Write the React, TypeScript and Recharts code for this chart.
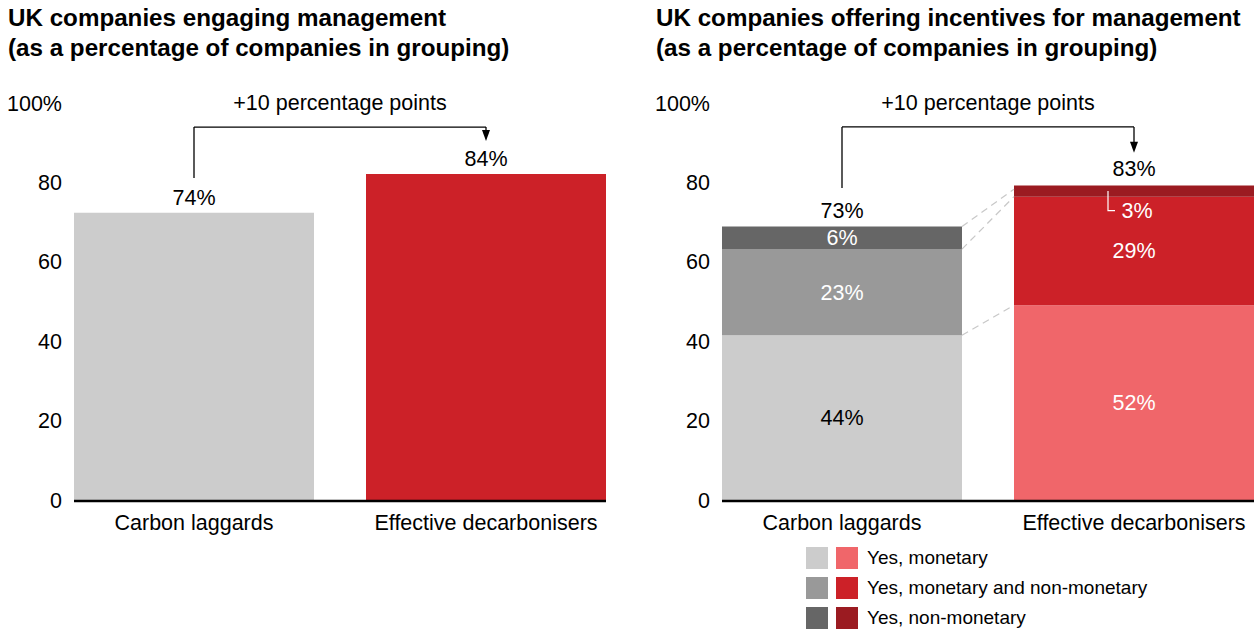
import React from 'react';
import { ComposedChart, Bar, Line, XAxis, YAxis, ReferenceLine, LabelList, Legend, Cell } from 'recharts';

const FONT = '"Liberation Sans", Arial, Helvetica, sans-serif';
const FS = 21.5;

const CATEGORIES = ['Carbon laggards', 'Effective decarbonisers'];
const Y_TICKS = [0, 20, 40, 60, 80, 100];
const Y_TICK_LABELS = ['0', '20', '40', '60', '80', '100%'];

// Left chart: engaging management
const ENGAGING = [74, 84];
const ENGAGING_COLORS = ['#cccccc', '#cc2128'];

// Right chart: incentives
const MONETARY = [44, 52];
const BOTH = [23, 29];
const NON_MONETARY = [6, 3];
const TOTALS = [73, 83];
const MONETARY_COLORS = ['#cccccc', '#f0666a'];
const BOTH_COLORS = ['#999999', '#cc2128'];
const NON_MONETARY_COLORS = ['#666666', '#9b1b21'];
const MONETARY_LABEL_COLORS = ['#000000', '#ffffff'];
const LEGEND_LABELS = ['Yes, monetary', 'Yes, monetary and non-monetary', 'Yes, non-monetary'];
const LEGEND_ROWS = [MONETARY_COLORS, BOTH_COLORS, NON_MONETARY_COLORS];

const TITLE_LEFT = ['UK companies engaging management', '(as a percentage of companies in grouping)'];
const TITLE_RIGHT = ['UK companies offering incentives for management', '(as a percentage of companies in grouping)'];
const ANNOTATION = '+10 percentage points';

// bracket levels in bar-axis units: start (above first bar), top (horizontal), tip (arrow end)
const LEFT_BRACKET = [83, 96.1, 92.5];
const RIGHT_BRACKET = [83.3, 99.6, 92.7];
// the reference draws its bars on a slightly stretched scale relative to its tick labels
const LEFT_BAR_MAX = 102.3;
const RIGHT_BAR_MAX = 106;

const BAR_W = 240;
const CHART_W = 640;
const CHART_H = 631;
const MARGIN = { top: 103, right: 8, bottom: 91, left: 0 };

const leftData = CATEGORIES.map((name, i) => ({ name, value: ENGAGING[i] }));
const rightData = CATEGORIES.map((name, i) => ({
  name,
  monetary: MONETARY[i],
  both: BOTH[i],
  non: NON_MONETARY[i],
  total: TOTALS[i],
  upper: MONETARY[i] + BOTH[i],
}));

const box = (p: any) => (p.viewBox && p.viewBox.width !== undefined ? p.viewBox : p);

const YTick = (props: any) => {
  const { x, y, payload } = props;
  const i = Y_TICKS.indexOf(payload.value);
  return (
    <text x={Number(x) + 14} y={Number(y) + 7.5} textAnchor="end" fontSize={FS} fill="#000">
      {i >= 0 ? Y_TICK_LABELS[i] : payload.value}
    </text>
  );
};

const XTick = (props: any) => {
  const { x, y, payload } = props;
  return (
    <text x={x} y={Number(y) + 30} textAnchor="middle" fontSize={FS} fill="#000">
      {payload.value}
    </text>
  );
};

const baselineShape = (p: any) => (
  <line x1={p.x1 - BAR_W / 2} y1={p.y1 + 1} x2={p.x2 + BAR_W / 2} y2={p.y2 + 1} stroke="#000" strokeWidth={2.5} />
);

const connectorShape = (p: any) => (
  <line
    x1={p.x1 + BAR_W / 2}
    y1={p.y1}
    x2={p.x2 - BAR_W / 2}
    y2={p.y2}
    stroke="#c8c8c8"
    strokeWidth={1.2}
    strokeDasharray="7 5"
  />
);

const arrowShape = (p: any) => (
  <g>
    <line x1={p.x1} y1={p.y1} x2={p.x2} y2={p.y2 - 6} stroke="#000" strokeWidth={1.3} />
    <polygon points={`${p.x2 - 4},${p.y2 - 11} ${p.x2 + 4},${p.y2 - 11} ${p.x2},${p.y2}`} fill="#000" />
  </g>
);

const bracket = (levels: number[], prefix: string) => {
  const [start, top, tip] = levels;
  return [
    <ReferenceLine
      key={prefix + 'a'}
      yAxisId="bars"
      segment={[{ x: CATEGORIES[0], y: start }, { x: CATEGORIES[0], y: top }]}
      stroke="#000"
      strokeWidth={1.3}
    />,
    <ReferenceLine
      key={prefix + 'b'}
      yAxisId="bars"
      segment={[{ x: CATEGORIES[0], y: top }, { x: CATEGORIES[1], y: top }]}
      stroke="#000"
      strokeWidth={1.3}
      label={{ value: ANNOTATION, position: 'top', offset: 17, fill: '#000', fontSize: FS }}
    />,
    <ReferenceLine
      key={prefix + 'c'}
      yAxisId="bars"
      segment={[{ x: CATEGORIES[1], y: top }, { x: CATEGORIES[1], y: tip }]}
      shape={arrowShape}
    />,
  ];
};

const centerLabel = (colors: string[] | null) => (p: any) => {
  const b = box(p);
  const fill = colors ? colors[p.index] ?? '#fff' : '#fff';
  return (
    <text x={b.x + b.width / 2} y={b.y + b.height / 2 + 7.5} textAnchor="middle" fill={fill} fontSize={FS}>
      {p.value}%
    </text>
  );
};

const nonLabel = (p: any) => {
  const b = box(p);
  const cx = b.x + b.width / 2;
  if (b.height >= 18) {
    return (
      <text x={cx} y={b.y + b.height / 2 + 7.5} textAnchor="middle" fill="#fff" fontSize={FS}>
        {p.value}%
      </text>
    );
  }
  const bottom = b.y + b.height;
  return (
    <g>
      <path
        d={`M${cx - 26},${b.y + b.height / 2} V${bottom + 14} H${cx - 19}`}
        stroke="#fff"
        strokeWidth={1.2}
        fill="none"
      />
      <text x={cx + 3} y={bottom + 14 + 7.5} textAnchor="middle" fill="#fff" fontSize={FS}>
        {p.value}%
      </text>
    </g>
  );
};

const LegendContent = () => (
  <div style={{ display: 'flex', flexDirection: 'column', fontFamily: FONT }}>
    {LEGEND_LABELS.map((label, i) => (
      <div key={label} style={{ display: 'flex', alignItems: 'center', height: 30 }}>
        <span style={{ width: 22, height: 22, background: LEGEND_ROWS[i][0], marginRight: 8 }} />
        <span style={{ width: 22, height: 22, background: LEGEND_ROWS[i][1], marginRight: 9 }} />
        <span style={{ fontSize: 19, color: '#000', whiteSpace: 'nowrap' }}>{label}</span>
      </div>
    ))}
  </div>
);

const Title = ({ lines, left }: { lines: string[]; left: number }) => (
  <div
    style={{
      position: 'absolute',
      left,
      top: 3,
      fontSize: 24.2,
      fontWeight: 'bold',
      lineHeight: '30px',
      color: '#000',
      whiteSpace: 'nowrap',
    }}
  >
    {lines.map((l) => (
      <div key={l}>{l}</div>
    ))}
  </div>
);

const commonAxes = (barMax: number, tickKey: string) => [
  <XAxis
    key="x"
    dataKey="name"
    type="category"
    height={40}
    axisLine={false}
    tickLine={false}
    tickSize={0}
    tickMargin={0}
    tick={XTick}
    interval={0}
  />,
  <YAxis
    key="yt"
    yAxisId="ticks"
    width={48}
    domain={[0, 100]}
    ticks={Y_TICKS}
    type="number"
    axisLine={false}
    tickLine={false}
    tickSize={0}
    tickMargin={0}
    tick={YTick}
    interval={0}
    allowDataOverflow
  />,
  <YAxis key="yb" yAxisId="bars" hide width={0} domain={[0, barMax]} type="number" allowDataOverflow />,
  // invisible series that binds the tick axis to the data so it is drawn
  <Line
    key="tickline"
    yAxisId="ticks"
    dataKey={tickKey}
    stroke="none"
    dot={false}
    activeDot={false}
    legendType="none"
    isAnimationActive={false}
  />,
];

export default function App() {
  return (
    <div
      style={{
        position: 'absolute',
        left: 0,
        top: 0,
        width: 1258,
        height: 631,
        overflow: 'hidden',
        background: '#fff',
        fontFamily: FONT,
      }}
    >
      <Title lines={TITLE_LEFT} left={8} />
      <Title lines={TITLE_RIGHT} left={656} />

      <div style={{ position: 'absolute', left: 0, top: 0 }}>
        <ComposedChart width={CHART_W} height={CHART_H} data={leftData} margin={MARGIN} barSize={BAR_W}>
          {commonAxes(LEFT_BAR_MAX, 'value')}
          <Bar dataKey="value" yAxisId="bars" isAnimationActive={false}>
            {leftData.map((d, i) => (
              <Cell key={d.name} fill={ENGAGING_COLORS[i]} />
            ))}
            <LabelList
              dataKey="value"
              position="top"
              offset={8}
              formatter={(v: any) => `${v}%`}
              fill="#000"
              fontSize={FS}
            />
          </Bar>
          <ReferenceLine
            yAxisId="bars"
            segment={[{ x: CATEGORIES[0], y: 0 }, { x: CATEGORIES[1], y: 0 }]}
            shape={baselineShape}
          />
          {bracket(LEFT_BRACKET, 'l')}
        </ComposedChart>
      </div>

      <div style={{ position: 'absolute', left: 648, top: 0 }}>
        <ComposedChart width={CHART_W} height={CHART_H} data={rightData} margin={MARGIN} barSize={BAR_W}>
          {commonAxes(RIGHT_BAR_MAX, 'total')}
          <Bar dataKey="monetary" stackId="s" yAxisId="bars" isAnimationActive={false}>
            {rightData.map((d, i) => (
              <Cell key={d.name} fill={MONETARY_COLORS[i]} />
            ))}
            <LabelList dataKey="monetary" position="center" content={centerLabel(MONETARY_LABEL_COLORS)} />
          </Bar>
          <Bar dataKey="both" stackId="s" yAxisId="bars" isAnimationActive={false}>
            {rightData.map((d, i) => (
              <Cell key={d.name} fill={BOTH_COLORS[i]} />
            ))}
            <LabelList dataKey="both" position="center" content={centerLabel(null)} />
          </Bar>
          <Bar dataKey="non" stackId="s" yAxisId="bars" isAnimationActive={false}>
            {rightData.map((d, i) => (
              <Cell key={d.name} fill={NON_MONETARY_COLORS[i]} />
            ))}
            <LabelList dataKey="non" position="center" content={nonLabel} />
            <LabelList
              dataKey="total"
              position="top"
              offset={9}
              formatter={(v: any) => `${v}%`}
              fill="#000"
              fontSize={FS}
            />
          </Bar>
          <ReferenceLine
            yAxisId="bars"
            segment={[{ x: CATEGORIES[0], y: 0 }, { x: CATEGORIES[1], y: 0 }]}
            shape={baselineShape}
          />
          <ReferenceLine
            yAxisId="bars"
            segment={[{ x: CATEGORIES[0], y: TOTALS[0] }, { x: CATEGORIES[1], y: TOTALS[1] }]}
            shape={connectorShape}
          />
          <ReferenceLine
            yAxisId="bars"
            segment={[{ x: CATEGORIES[0], y: rightData[0].upper }, { x: CATEGORIES[1], y: rightData[1].upper }]}
            shape={connectorShape}
          />
          <ReferenceLine
            yAxisId="bars"
            segment={[{ x: CATEGORIES[0], y: MONETARY[0] }, { x: CATEGORIES[1], y: MONETARY[1] }]}
            shape={connectorShape}
          />
          {bracket(RIGHT_BRACKET, 'r')}
          <Legend
            layout="vertical"
            align="center"
            verticalAlign="middle"
            wrapperStyle={{ left: 158, top: 543, width: 'auto', height: 'auto', right: 'auto', bottom: 'auto' }}
            content={LegendContent}
          />
        </ComposedChart>
      </div>
    </div>
  );
}
